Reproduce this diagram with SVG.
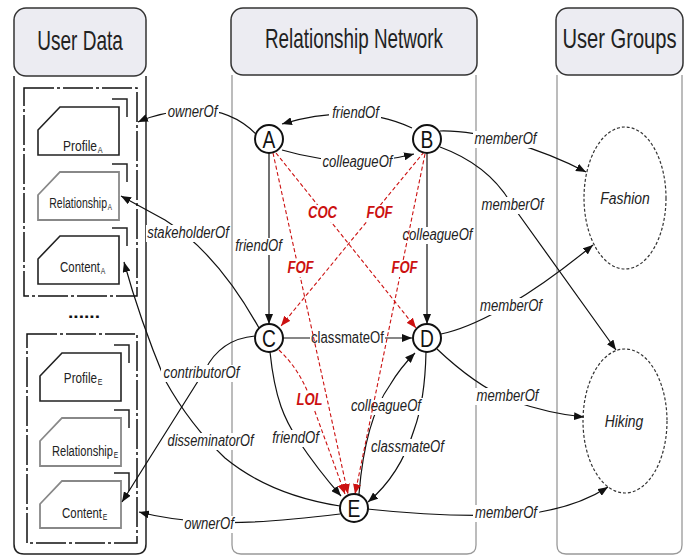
<svg xmlns="http://www.w3.org/2000/svg" width="688" height="556" viewBox="0 0 688 556">
<defs>
<marker id="ab" markerWidth="10" markerHeight="8" refX="10" refY="4" orient="auto" markerUnits="userSpaceOnUse"><path d="M0,0 L10,4 L0,8 Z" fill="#111"/></marker>
<marker id="ar" markerWidth="10" markerHeight="8" refX="10" refY="4" orient="auto" markerUnits="userSpaceOnUse"><path d="M0,0 L10,4 L0,8 Z" fill="#cc1111"/></marker>
<style>
text{font-family:"Liberation Sans",Arial,sans-serif;text-anchor:middle}
.hdr{fill:#ececf2;stroke:#333;stroke-width:1.5}
.hdrt{font-size:28px;fill:#222}
.body1{fill:none;stroke:#222;stroke-width:1.5}
.body2{fill:none;stroke:#999;stroke-width:1.3}
.dbox{fill:none;stroke:#111;stroke-width:1.5;stroke-dasharray:30,3,3,3}
.doc{fill:#fff;stroke:#222;stroke-width:1.6}
.docg{fill:#fff;stroke:#888;stroke-width:1.8}
.brk{fill:none;stroke:#222;stroke-width:1.5}
.dt{font-size:15px;fill:#222;text-anchor:end}
.sub{font-size:9px;fill:#222;text-anchor:start}
.grp{fill:none;stroke:#333;stroke-width:1.2;stroke-dasharray:3,2}
.gt{font-size:17px;font-style:italic;fill:#222}
.c{fill:none;stroke:#111;stroke-width:1.2;marker-end:url(#ab)}
.r{fill:none;stroke:#cc1111;stroke-width:1.1;stroke-dasharray:4,2.5;marker-end:url(#ar)}
.bg{fill:#fff}
.l{font-size:16px;font-style:italic;fill:#222}
.up{font-style:normal}
.rl{font-size:16px;font-style:italic;font-weight:bold;fill:#cc1111}
.node circle{fill:#fff;stroke:#111;stroke-width:2}
.node text{font-size:24px;fill:#111}
</style>
</defs>

<g id="panel-userdata">
<path class="body1" d="M14,76 V544 Q14,554 24,554 H136 Q146,554 146,544 V76"/>
<rect class="hdr" x="14" y="8" width="132" height="68" rx="12"/>
<g transform="translate(80,50) scale(0.68,1)"><text class="hdrt">User Data</text></g>
</g>
<g id="panel-network">
<path class="body2" d="M232,75 V545 Q232,554 241,554 H467 Q476,554 476,545 V75"/>
<rect class="hdr" x="231" y="8" width="246" height="67" rx="12"/>
<g transform="translate(354,48) scale(0.673,1)"><text class="hdrt">Relationship Network</text></g>
</g>
<g id="panel-groups">
<path class="body2" d="M557,75 V545 Q557,554 566,554 H673 Q682,554 682,545 V75"/>
<rect class="hdr" x="556" y="8" width="127" height="67" rx="12"/>
<g transform="translate(619.5,48) scale(0.72,1)"><text class="hdrt">User Groups</text></g>
</g>

<g id="userdata-A">
<rect class="dbox" x="24" y="88" width="113" height="208"/>
<g id="profileA"><path class="doc" d="M38,130 L60,107 H119 V155 H38 Z"/><path class="brk" d="M112,99 H127 V117"/>
<g transform="translate(97,151) scale(0.8,1)"><text class="dt">Profile</text><text class="sub" x="1" y="2">A</text></g></g>
<g id="relationshipA"><path class="docg" d="M38,195 L60,172 H119 V220 H38 Z"/><path class="brk" d="M112,164 H127 V182"/>
<g transform="translate(107,208) scale(0.7,1)"><text class="dt">Relationship</text><text class="sub" x="1" y="2">A</text></g></g>
<g id="contentA"><path class="doc" d="M38,259 L60,236 H119 V284 H38 Z"/><path class="brk" d="M112,228 H127 V246"/>
<g transform="translate(100,272) scale(0.76,1)"><text class="dt">Content</text><text class="sub" x="1" y="2">A</text></g></g>
</g>

<g transform="translate(84,318) scale(1.2,1)"><text id="ellipsis" style="font-size:16px;font-weight:bold;fill:#111">......</text></g>

<g id="userdata-E">
<rect class="dbox" x="27" y="334" width="110" height="209"/>
<g id="profileE"><path class="doc" d="M40,376 L62,353 H121 V401 H40 Z"/><path class="brk" d="M114,345 H129 V363"/>
<g transform="translate(97,383) scale(0.78,1)"><text class="dt">Profile</text><text class="sub" x="1" y="2">E</text></g></g>
<g id="relationshipE"><path class="docg" d="M40,441 L62,418 H121 V466 H40 Z"/><path class="brk" d="M114,410 H129 V428"/>
<g transform="translate(113,456) scale(0.74,1)"><text class="dt">Relationship</text><text class="sub" x="1" y="2">E</text></g></g>
<g id="contentE"><path class="docg" d="M40,504 L62,481 H121 V528 H40 Z"/><path class="brk" d="M114,473 H129 V491"/>
<g transform="translate(102,518) scale(0.76,1)"><text class="dt">Content</text><text class="sub" x="1" y="2">E</text></g></g>
</g>

<g id="group-fashion"><ellipse class="grp" cx="625" cy="198" rx="41" ry="71"/><g transform="translate(625,204) scale(0.82,1)"><text class="gt">Fashion</text></g></g>
<g id="group-hiking"><ellipse class="grp" cx="625" cy="421" rx="42" ry="72"/><g transform="translate(624,427) scale(0.82,1)"><text class="gt">Hiking</text></g></g>

<g id="connectors">
<path class="c" d="M256,134 Q230,108 192,110 Q160,112 138,122"/>
<path class="c" d="M412,128 Q356,102 282,124"/>
<path class="c" d="M282,150 Q350,170 414,154"/>
<path class="c" d="M269,153 V324"/>
<path class="c" d="M427,153 V324"/>
<path class="c" d="M283,338 H412"/>
<path class="c" d="M440,131 C480,130 540,148 586,172"/>
<path class="c" d="M440,147 C470,158 495,175 512,205 L616,350"/>
<path class="c" d="M441,334 C470,328 520,305 593,245"/>
<path class="c" d="M437,349 Q475,385 510,400 Q550,414 584,417"/>
<path class="c" d="M367,509 Q470,520 540,512 Q580,505 608,487"/>
<path class="c" d="M259,328 C235,285 205,245 165,220 L121,196"/>
<path class="c" d="M255,336 C232,338 215,350 205,370 L122,502"/>
<path class="c" d="M340,506 Q270,495 225,458 Q190,425 165,380 Q140,320 124,262"/>
<path class="c" d="M340,514 Q250,525 209,522 Q170,520 139,512"/>
<path class="c" d="M270,352 C275,400 285,420 298,440 Q318,470 341,496"/>
<path class="c" d="M359,494 Q365,420 390,385 Q400,368 415,353"/>
<path class="c" d="M426,352 Q425,400 414,430 Q400,475 368,502"/>

<rect class="bg" x="166" y="104" width="53" height="17"/><g transform="translate(192.5,117) scale(0.82,1)"><text class="l">ownerOf</text></g>
<rect class="bg" x="329" y="105" width="52" height="17"/><g transform="translate(355.5,118) scale(0.82,1)"><text class="l">friendOf</text></g>
<rect class="bg" x="321" y="154" width="73" height="17"/><g transform="translate(357.5,167) scale(0.82,1)"><text class="l">colleagueOf</text></g>
<rect class="bg" x="473" y="131" width="65" height="17"/><g transform="translate(505.5,144) scale(0.82,1)"><text class="l">memberOf</text></g>
<rect class="bg" x="480" y="197" width="65" height="17"/><g transform="translate(512.5,210) scale(0.82,1)"><text class="l">memberOf</text></g>
<rect class="bg" x="479" y="298" width="64" height="17"/><g transform="translate(511,311) scale(0.82,1)"><text class="l">memberOf</text></g>
<rect class="bg" x="475" y="388" width="65" height="17"/><g transform="translate(507.5,401) scale(0.82,1)"><text class="l">memberOf</text></g>
<rect class="bg" x="473" y="505" width="66" height="17"/><g transform="translate(506,518) scale(0.82,1)"><text class="l">memberOf</text></g>
<rect class="bg" x="401" y="227" width="73" height="17"/><g transform="translate(437.5,240) scale(0.82,1)"><text class="l">colleagueOf</text></g>
<rect class="bg" x="233" y="238" width="51" height="17"/><g transform="translate(258.5,251) scale(0.82,1)"><text class="l">friendOf</text></g>
<rect class="bg" x="146" y="225" width="84" height="17"/><g transform="translate(188,238) scale(0.82,1)"><text class="l">stakeholderOf</text></g>
<rect class="bg" x="161" y="365" width="81" height="17"/><g transform="translate(201.5,378) scale(0.82,1)"><text class="l">contributorOf</text></g>
<rect class="bg" x="166" y="433" width="89" height="17"/><g transform="translate(210.5,446) scale(0.8,1)"><text class="l">disseminatorOf</text></g>
<rect class="bg" x="310" y="330" width="75" height="17"/><g transform="translate(347.5,343) scale(0.82,1)"><text class="l up">classmateOf</text></g>
<rect class="bg" x="270" y="430" width="51" height="17"/><g transform="translate(295.5,443) scale(0.82,1)"><text class="l">friendOf</text></g>
<rect class="bg" x="350" y="398" width="73" height="17"/><g transform="translate(386,411) scale(0.82,1)"><text class="l">colleagueOf</text></g>
<rect class="bg" x="370" y="439" width="75" height="17"/><g transform="translate(407.5,452) scale(0.82,1)"><text class="l">classmateOf</text></g>
<rect class="bg" x="183" y="516" width="52" height="17"/><g transform="translate(209,529) scale(0.82,1)"><text class="l">ownerOf</text></g>

<path class="r" d="M276,153 L416,328"/>
<path class="r" d="M424,152 L281,326"/>
<path class="r" d="M273,153 L348,494"/>
<path class="r" d="M425,154 L355,494"/>
<path class="r" d="M279,350 Q300,370 310,398 L345,494"/>

<rect class="bg" x="306" y="205" width="33" height="17"/><g transform="translate(322.5,218) scale(0.82,1)"><text class="rl">COC</text></g>
<rect class="bg" x="365" y="205" width="29" height="17"/><g transform="translate(379.5,218) scale(0.82,1)"><text class="rl">FOF</text></g>
<rect class="bg" x="286" y="260" width="29" height="17"/><g transform="translate(300.5,273) scale(0.82,1)"><text class="rl">FOF</text></g>
<rect class="bg" x="390" y="260" width="29" height="17"/><g transform="translate(404.5,273) scale(0.82,1)"><text class="rl">FOF</text></g>
<rect class="bg" x="295" y="392" width="29" height="17"/><g transform="translate(309.5,405) scale(0.82,1)"><text class="rl up">LOL</text></g>
</g>

<g id="node-A" class="node"><circle cx="269" cy="139" r="14"/><g transform="translate(269,147.5) scale(0.8,1)"><text>A</text></g></g>
<g id="node-B" class="node"><circle cx="427" cy="139" r="14"/><g transform="translate(427,147.5) scale(0.8,1)"><text>B</text></g></g>
<g id="node-C" class="node"><circle cx="269" cy="338" r="14"/><g transform="translate(269,346.5) scale(0.8,1)"><text>C</text></g></g>
<g id="node-D" class="node"><circle cx="427" cy="338" r="14"/><g transform="translate(427,346.5) scale(0.8,1)"><text>D</text></g></g>
<g id="node-E" class="node"><circle cx="354" cy="508" r="14"/><g transform="translate(354,516.5) scale(0.8,1)"><text>E</text></g></g>
</svg>
